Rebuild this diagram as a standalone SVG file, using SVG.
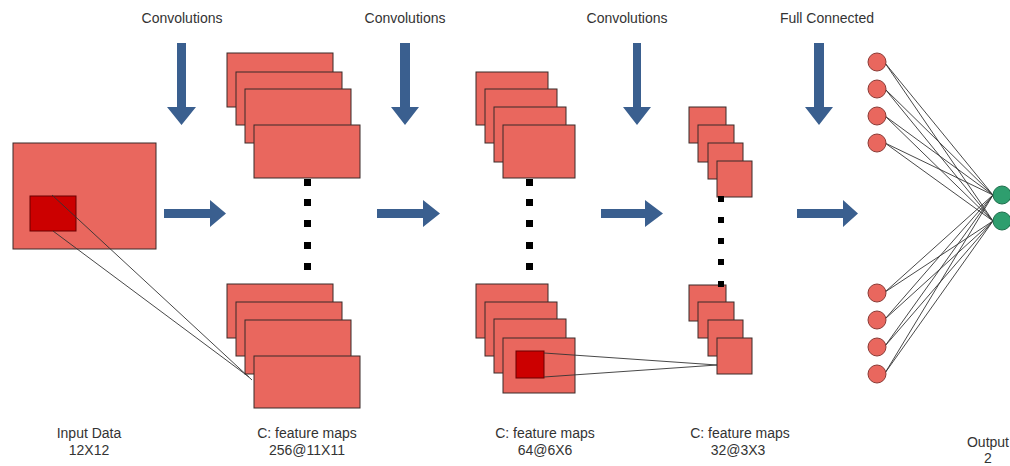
<svg xmlns="http://www.w3.org/2000/svg" width="1010" height="466" viewBox="0 0 1010 466">
<style>
.fm{fill:#e9675e;stroke:#3a2a28;stroke-width:1}
.dk{fill:#cc0000;stroke:#6a0000;stroke-width:1}
.dot{fill:#000}
.arr{fill:#3a5f8f}
.ln{stroke:#333;stroke-width:0.9;fill:none}
.nr{fill:#e9675e;stroke:#8a3a35;stroke-width:1}
.ng{fill:#2e9e6e;stroke:#1e6e4c;stroke-width:1}
.t{font-family:"Liberation Sans",Arial,sans-serif;font-size:14px;fill:#333;text-anchor:middle}
</style>
<rect width="1010" height="466" fill="#fff"/>

<g id="input">
<rect class="fm" x="13" y="143" width="143" height="106"/>
<rect class="dk" x="30" y="196" width="46" height="35"/>
</g>

<g id="conv1-top">
<rect class="fm" x="227" y="53" width="106" height="54"/>
<rect class="fm" x="236" y="72" width="106" height="53"/>
<rect class="fm" x="245" y="89" width="106" height="54"/>
<rect class="fm" x="254" y="125" width="106" height="53"/>
</g>
<g id="conv1-bottom">
<rect class="fm" x="227" y="284" width="106" height="54"/>
<rect class="fm" x="236" y="302" width="106" height="54"/>
<rect class="fm" x="245" y="320" width="106" height="54"/>
<rect class="fm" x="254" y="356" width="106" height="52"/>
</g>
<g id="conv1-dots">
<rect class="dot" x="304" y="179" width="7" height="7"/>
<rect class="dot" x="304" y="199" width="7" height="7"/>
<rect class="dot" x="304" y="220" width="7" height="7"/>
<rect class="dot" x="304" y="242" width="7" height="7"/>
<rect class="dot" x="304" y="263" width="7" height="7"/>
</g>

<g id="conv2-top">
<rect class="fm" x="476" y="72" width="72" height="53"/>
<rect class="fm" x="485" y="89" width="72" height="54"/>
<rect class="fm" x="494" y="107" width="72" height="55"/>
<rect class="fm" x="503" y="125" width="72" height="53"/>
</g>
<g id="conv2-bottom">
<rect class="fm" x="476" y="284" width="72" height="54"/>
<rect class="fm" x="485" y="302" width="72" height="54"/>
<rect class="fm" x="494" y="319" width="72" height="54"/>
<rect class="fm" x="503" y="338" width="72" height="55"/>
<rect class="dk" x="516" y="351" width="28" height="27"/>
</g>
<g id="conv2-dots">
<rect class="dot" x="526" y="179" width="7" height="7"/>
<rect class="dot" x="526" y="199" width="7" height="7"/>
<rect class="dot" x="526" y="220" width="7" height="7"/>
<rect class="dot" x="526" y="242" width="7" height="7"/>
<rect class="dot" x="526" y="263" width="7" height="7"/>
</g>

<g id="conv3-top">
<rect class="fm" x="689" y="107" width="37" height="36"/>
<rect class="fm" x="698" y="125" width="36" height="37"/>
<rect class="fm" x="708" y="143" width="35" height="36"/>
<rect class="fm" x="717" y="161" width="35" height="36"/>
</g>
<g id="conv3-bottom">
<rect class="fm" x="689" y="285" width="37" height="36"/>
<rect class="fm" x="698" y="302" width="36" height="36"/>
<rect class="fm" x="708" y="320" width="35" height="36"/>
<rect class="fm" x="717" y="338" width="35" height="36"/>
</g>
<g id="conv3-dots">
<rect class="dot" x="718" y="196" width="6" height="6"/>
<rect class="dot" x="718" y="217" width="6" height="6"/>
<rect class="dot" x="718" y="238" width="6" height="6"/>
<rect class="dot" x="718" y="259" width="6" height="6"/>
<rect class="dot" x="718" y="281" width="6" height="6"/>
</g>

<g id="connectors">
<g id="down-arrows">
<polygon class="arr" points="177,43 186,43 186,107 196,107 181.5,125 167,107 177,107"/>
<polygon class="arr" points="400,43 410,43 410,107 419,107 405,125 391,107 400,107"/>
<polygon class="arr" points="633,43 641,43 641,107 651,107 637,125 623,107 633,107"/>
<polygon class="arr" points="814,43 824,43 824,107 833,107 819,125 805,107 814,107"/>
</g>
<g id="right-arrows">
<polygon class="arr" points="164,209 210,209 210,200 226,213.5 210,227 210,218 164,218"/>
<polygon class="arr" points="377,209 423,209 423,200 440,213.5 423,227 423,218 377,218"/>
<polygon class="arr" points="601,209 645,209 645,200 663,213.5 645,227 645,218 601,218"/>
<polygon class="arr" points="797,209 843,209 843,200 858,213.5 843,227 843,218 797,218"/>
</g>
<g id="receptive-lines">
<line class="ln" x1="52" y1="195" x2="252" y2="380"/>
<line class="ln" x1="53" y1="231" x2="249" y2="377"/>
<line class="ln" x1="544" y1="353" x2="717" y2="365"/>
<line class="ln" x1="544" y1="377" x2="717" y2="365"/>
</g>
<g id="fc-lines">
<line class="ln" x1="885" y1="63" x2="993" y2="195"/>
<line class="ln" x1="885" y1="63" x2="993" y2="221"/>
<line class="ln" x1="885" y1="89" x2="993" y2="195"/>
<line class="ln" x1="885" y1="89" x2="993" y2="221"/>
<line class="ln" x1="885" y1="116" x2="993" y2="195"/>
<line class="ln" x1="885" y1="116" x2="993" y2="221"/>
<line class="ln" x1="885" y1="143" x2="993" y2="195"/>
<line class="ln" x1="885" y1="143" x2="993" y2="221"/>
<line class="ln" x1="885" y1="292" x2="993" y2="195"/>
<line class="ln" x1="885" y1="292" x2="993" y2="221"/>
<line class="ln" x1="885" y1="319" x2="993" y2="195"/>
<line class="ln" x1="885" y1="319" x2="993" y2="221"/>
<line class="ln" x1="885" y1="346" x2="993" y2="195"/>
<line class="ln" x1="885" y1="346" x2="993" y2="221"/>
<line class="ln" x1="885" y1="373" x2="993" y2="195"/>
<line class="ln" x1="885" y1="373" x2="993" y2="221"/>
</g>
</g>

<g id="fc-layer">
<circle class="nr" cx="877" cy="62" r="9"/>
<circle class="nr" cx="877" cy="89" r="9"/>
<circle class="nr" cx="877" cy="116" r="9"/>
<circle class="nr" cx="877" cy="143" r="9"/>
<circle class="nr" cx="877" cy="293" r="9"/>
<circle class="nr" cx="877" cy="320" r="9"/>
<circle class="nr" cx="877" cy="347" r="9"/>
<circle class="nr" cx="877" cy="374" r="9"/>
</g>
<g id="output-layer">
<circle class="ng" cx="1002" cy="195" r="9"/>
<circle class="ng" cx="1002" cy="221" r="9"/>
</g>

<g id="labels">
<text class="t" x="182" y="23">Convolutions</text>
<text class="t" x="405" y="23">Convolutions</text>
<text class="t" x="627" y="23">Convolutions</text>
<text class="t" x="827" y="23">Full Connected</text>
<text class="t" x="89" y="438">Input Data</text>
<text class="t" x="89" y="455">12X12</text>
<text class="t" x="307" y="438">C: feature maps</text>
<text class="t" x="307" y="455">256@11X11</text>
<text class="t" x="545" y="438">C: feature maps</text>
<text class="t" x="545" y="455">64@6X6</text>
<text class="t" x="740" y="438">C: feature maps</text>
<text class="t" x="738" y="455">32@3X3</text>
<text class="t" x="988" y="447">Output</text>
<text class="t" x="988" y="463">2</text>
</g>
</svg>
